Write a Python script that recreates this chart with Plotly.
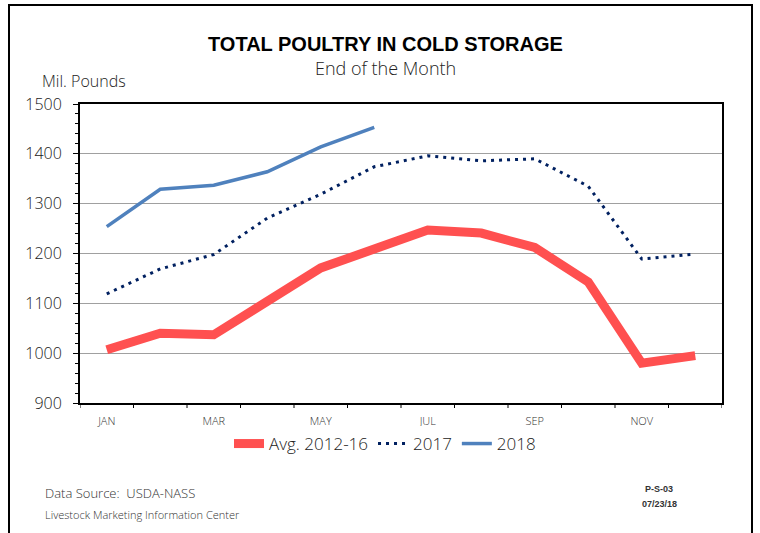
import plotly.graph_objects as go

months = ["JAN", "FEB", "MAR", "APR", "MAY", "JUN", "JUL", "AUG", "SEP", "OCT", "NOV", "DEC"]
tick_labels = ["JAN", "", "MAR", "", "MAY", "", "JUL", "", "SEP", "", "NOV", ""]
avg_2012_16 = [1007, 1040, 1037, 1106, 1171, 1209, 1247, 1241, 1212, 1143, 980, 995]
y2017 = [1119, 1169, 1198, 1271, 1319, 1374, 1396, 1386, 1390, 1335, 1189, 1199]
y2018 = [1254, 1329, 1337, 1364, 1414, 1453]

W, H = 760, 533
L, R, T, B = 80, 722, 104, 403
FONT = "Open Sans, Noto Sans, sans-serif"
BOLD = "Liberation Sans, Arial, sans-serif"


def px(x):
    return (x - L) / (R - L)


def py(y):
    return (B - y) / (B - T)


fig = go.Figure()
fig.add_trace(go.Scatter(x=months, y=avg_2012_16, name="Avg. 2012-16", mode="lines",
                         line=dict(color="#FF5050", width=9)))
fig.add_trace(go.Scatter(x=months, y=y2017, name="2017", mode="lines",
                         line=dict(color="#002060", width=3, dash="3px,5px")))
fig.add_trace(go.Scatter(x=months[:len(y2018)], y=y2018, name="2018", mode="lines",
                         line=dict(color="#4F81BD", width=3.5)))

fig.update_layout(
    width=W, height=H,
    margin=dict(l=L, r=W - R, t=T, b=H - B),
    paper_bgcolor="white", plot_bgcolor="white",
    font=dict(family=FONT, color="#000000"),
    showlegend=True,
    legend=dict(orientation="h", x=px(385), xanchor="center", y=py(444), yanchor="middle",
                font=dict(size=17, family=FONT, color="#222222", weight=300), itemwidth=30,
                tracegroupgap=0),
    xaxis=dict(type="category", range=[-0.5, 11.5], tickmode="array",
               tickvals=months, ticktext=tick_labels, showgrid=False,
               ticks="", ticklabelstandoff=7,
               tickfont=dict(size=11, color="#333333", family=FONT, weight=300),
               showline=True, linecolor="black", linewidth=2, mirror=True,
               fixedrange=True),
    yaxis=dict(range=[900, 1500], dtick=100, tick0=900, showgrid=True,
               gridcolor="#A0A0A0", gridwidth=1, ticks="outside", ticklen=5,
               tickcolor="black", tickwidth=1, ticklabelstandoff=8,
               minor=dict(dtick=20, ticks="outside", ticklen=3, tickcolor="black", showgrid=False),
               tickfont=dict(size=16, color="#1a1a1a", family=FONT, weight=300),
               showline=True, linecolor="black", linewidth=2, mirror=True,
               zeroline=False, fixedrange=True),
)

# x-axis tick marks at category boundaries
for i in range(13):
    fig.add_shape(type="line", xref="x", yref="paper", x0=i - 0.5, x1=i - 0.5,
                  y0=0, y1=py(B + 5), line=dict(color="black", width=1))

# outer border (open at bottom)
fig.add_shape(type="path", xref="paper", yref="paper",
              path=f"M {px(9)},{py(545)} L {px(9)},{py(5)} L {px(752)},{py(5)} L {px(752)},{py(545)}",
              line=dict(color="black", width=2))

ann = [
    dict(text="<b>TOTAL POULTRY IN COLD STORAGE</b>", x=px(385), y=py(44), size=20, xa="center", color="#000000", fam=BOLD, w=700),
    dict(text="End of the Month", x=px(385), y=py(68), size=18, xa="center", color="#222222", fam=FONT, w=300),
    dict(text="Mil. Pounds", x=px(40), y=py(81), size=16, xa="left", color="#222222", fam=FONT, w=300),
    dict(text="Data Source:  USDA-NASS", x=px(43), y=py(493), size=13, xa="left", color="#333333", fam=FONT, w=300),
    dict(text="Livestock Marketing Information Center", x=px(43), y=py(514), size=11, xa="left", color="#333333", fam=FONT, w=300),
    dict(text="<b>P-S-03</b>", x=px(659), y=py(489), size=9, xa="center", color="#333333", fam=BOLD, w=700),
    dict(text="<b>07/23/18</b>", x=px(659), y=py(504), size=9, xa="center", color="#333333", fam=BOLD, w=700),
]
for a in ann:
    fig.add_annotation(text=a["text"], x=a["x"], y=a["y"], xref="paper", yref="paper",
                       xanchor=a["xa"], yanchor="middle", showarrow=False,
                       font=dict(size=a["size"], family=a["fam"], color=a["color"], weight=a["w"]))

fig.write_html("out.html", config={"displayModeBar": False},
               post_script="document.body.style.margin='0px';")
